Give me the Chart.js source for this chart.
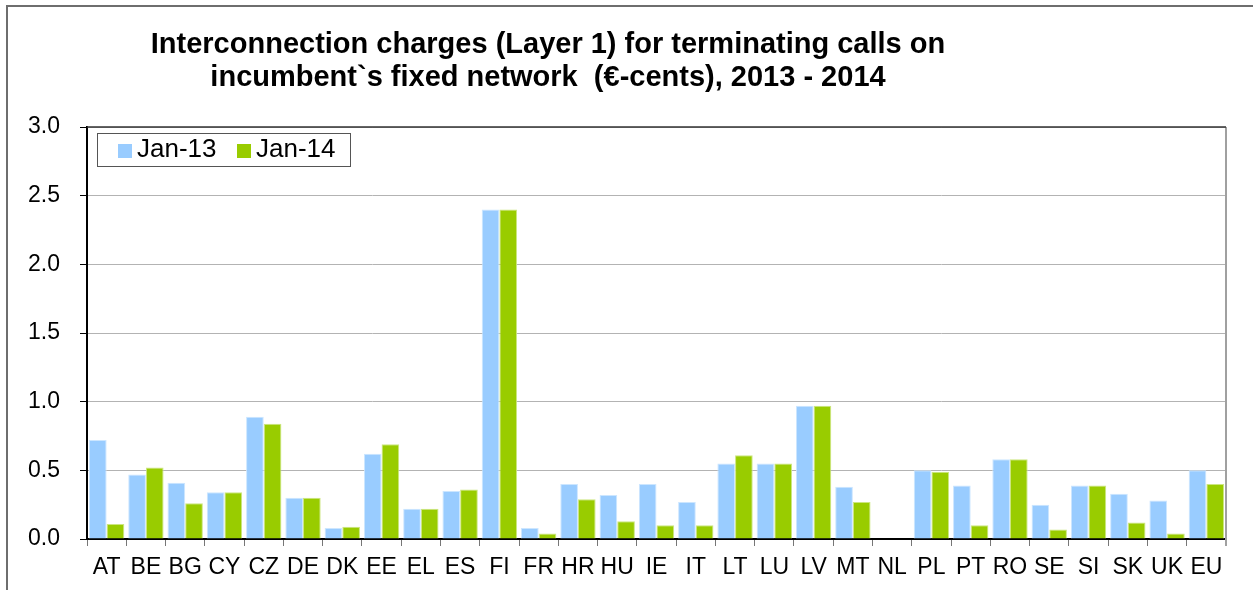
<!DOCTYPE html>
<html><head><meta charset="utf-8">
<script src="https://cdn.jsdelivr.net/npm/chart.js@4.4.1/dist/chart.umd.min.js"></script>
<style>html,body{margin:0;padding:0;background:#fff}#wrap{width:1253px;height:590px;position:relative}</style>
</head><body><div id="wrap"><canvas id="c" width="1253" height="590"></canvas></div>
<script>
const categories = ["AT","BE","BG","CY","CZ","DE","DK","EE","EL","ES","FI","FR","HR","HU","IE","IT","LT","LU","LV","MT","NL","PL","PT","RO","SE","SI","SK","UK","EU"];
const jan13 = [0.72,0.47,0.41,0.34,0.89,0.30,0.08,0.62,0.22,0.35,2.40,0.08,0.40,0.32,0.40,0.27,0.55,0.55,0.97,0.38,0,0.50,0.39,0.58,0.25,0.39,0.33,0.28,0.50];
const jan14 = [0.11,0.52,0.26,0.34,0.84,0.30,0.09,0.69,0.22,0.36,2.40,0.04,0.29,0.13,0.10,0.10,0.61,0.55,0.97,0.27,0,0.49,0.10,0.58,0.07,0.39,0.12,0.04,0.40];
const seriesLabels = ["Jan-13","Jan-14"];
const yTicks = [0,0.5,1.0,1.5,2.0,2.5,3.0];
const titleLines = ["Interconnection charges (Layer 1) for terminating calls on","incumbent`s fixed network  (€-cents), 2013 - 2014"];

const FONT = "'Liberation Sans', Arial, sans-serif";
const decor = {
  id:'decor',
  afterDraw(chart){
    const ctx = chart.ctx, a = chart.chartArea;
    ctx.save();
    ctx.strokeStyle = '#6e6e6e'; ctx.lineWidth = 2;
    ctx.beginPath(); ctx.moveTo(7,600); ctx.lineTo(7,6); ctx.lineTo(1260,6); ctx.stroke();
    ctx.strokeStyle = '#a0a0a0'; ctx.lineWidth = 2;
    ctx.beginPath(); ctx.moveTo(a.right,a.top); ctx.lineTo(a.right,a.bottom+7); ctx.stroke();
    ctx.strokeStyle = '#333'; ctx.lineWidth = 1.5;
    ctx.beginPath(); ctx.moveTo(a.left,a.top); ctx.lineTo(a.right,a.top); ctx.stroke();
    ctx.fillStyle = '#000'; ctx.font = "bold 29px "+FONT; ctx.textAlign='center'; ctx.textBaseline='alphabetic';
    ctx.fillText(titleLines[0],548,53);
    ctx.fillText(titleLines[1],548,86);
    const lx = 97, ly = 133, lw = 253, lh = 33;
    ctx.fillStyle='#fff'; ctx.fillRect(lx,ly,lw,lh);
    ctx.strokeStyle='#555'; ctx.lineWidth=1; ctx.strokeRect(lx+0.5,ly+0.5,lw,lh);
    ctx.font = "26px "+FONT; ctx.textAlign='left'; ctx.textBaseline='alphabetic';
    const ds = chart.data.datasets;
    let x = 118;
    ds.forEach((d,i)=>{
      ctx.fillStyle=d.backgroundColor; ctx.fillRect(x,144,14,14);
      ctx.fillStyle='#000'; ctx.fillText(d.label,x+19,157);
      x += 119;
    });
    ctx.restore();
  }
};

new Chart(document.getElementById('c'),{
  type:'bar',
  data:{labels:categories,datasets:[
    {label:seriesLabels[0],data:jan13,backgroundColor:'#99CCFF',borderColor:'#CCE6FF',borderWidth:{top:1,left:1,right:1,bottom:0},categoryPercentage:0.9,barPercentage:1.0},
    {label:seriesLabels[1],data:jan14,backgroundColor:'#99CC00',borderColor:'#CCE680',borderWidth:{top:1,left:1,right:1,bottom:0},categoryPercentage:0.9,barPercentage:1.0}
  ]},
  options:{
    responsive:false,animation:false,
    layout:{padding:{left:10,top:127,right:27,bottom:0}},
    plugins:{legend:{display:false},title:{display:false},tooltip:{enabled:false}},
    scales:{
      x:{
        grid:{drawOnChartArea:false,drawTicks:true,tickLength:7,color:'#777',offset:true},
        border:{color:'#000',width:2},
        ticks:{color:'#000',font:{size:23,family:FONT},padding:8,maxRotation:0,autoSkip:false},
        afterFit(s){s.height=51;}
      },
      y:{
        min:0,max:3,
        afterBuildTicks(s){s.ticks=yTicks.map(v=>({value:v}));},
        grid:{color:'#b3b3b3',lineWidth:1,tickLength:7,tickColor:'#000'},
        border:{color:'#000',width:2},
        ticks:{color:'#000',font:{size:23,family:FONT},padding:20,callback:v=>Number(v).toFixed(1)},
        afterFit(s){s.width=77;}
      }
    }
  },
  plugins:[decor]
});
</script></body></html>
